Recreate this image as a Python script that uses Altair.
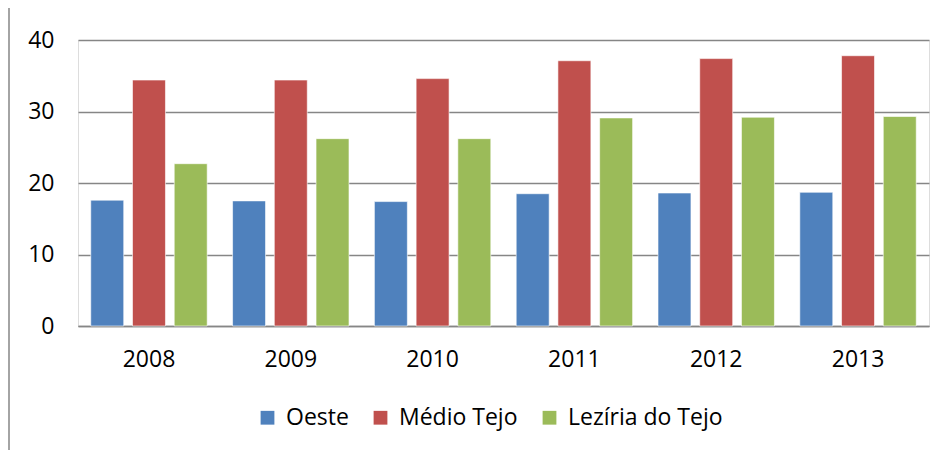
import altair as alt
import pandas as pd

years = ["2008", "2009", "2010", "2011", "2012", "2013"]
series = ["Oeste", "Médio Tejo", "Lezíria do Tejo"]
oeste = [17.6, 17.5, 17.4, 18.5, 18.6, 18.7]
medio_tejo = [34.4, 34.4, 34.6, 37.1, 37.4, 37.8]
leziria = [22.7, 26.2, 26.2, 29.1, 29.2, 29.3]
colors = ["#4F81BD", "#C0504D", "#9BBB59"]

rows = []
for name, vals in zip(series, [oeste, medio_tejo, leziria]):
    for y, v in zip(years, vals):
        rows.append({"year": y, "series": name, "value": v})
df = pd.DataFrame(rows)

FONT = "Open Sans"
FS = 23

bars = alt.Chart(df).mark_bar(stroke="white", strokeWidth=0.6).encode(
    x=alt.X("year:N", sort=years, title=None,
            scale=alt.Scale(paddingInner=0.179, paddingOuter=0.09),
            axis=alt.Axis(labelAngle=0, labelFont=FONT, labelFontSize=FS,
                          labelColor="#000000", labelPadding=22, ticks=False,
                          domainColor="#868686", domainWidth=1.5)),
    xOffset=alt.XOffset("series:N", sort=series,
                        scale=alt.Scale(paddingInner=0.21, paddingOuter=0)),
    y=alt.Y("value:Q", title=None,
            scale=alt.Scale(domain=[0, 40], nice=False),
            axis=alt.Axis(values=[0, 10, 20, 30, 40], labelFont=FONT,
                          labelFontSize=FS, labelColor="#000000",
                          labelPadding=24, ticks=False, domain=False,
                          gridColor="#868686", gridWidth=1.5)),
    color=alt.Color("series:N", sort=series,
                    scale=alt.Scale(domain=series, range=colors),
                    legend=alt.Legend(title=None, orient="none",
                                      direction="horizontal",
                                      legendX=178, legendY=366,
                                      symbolType="square", symbolSize=190,
                                      symbolStrokeWidth=0,
                                      labelFont=FONT, labelFontSize=FS,
                                      labelColor="#000000", columnPadding=20,
                                      symbolOffset=0, labelOffset=7)),
)

border = alt.Chart(pd.DataFrame({"a": [0]})).mark_rule(
    color="#868686", strokeWidth=1.5).encode(
    x=alt.value(-69), y=alt.value(-40), y2=alt.value(470))

chart = alt.layer(bars, border).properties(
    width=851, height=286,
    autosize=alt.AutoSizeParams(type="none"),
    padding={"left": 70, "top": 32, "right": 8, "bottom": 140},
).configure_view(stroke=None).configure(background="white")

chart.save("out.html", embed_options={"renderer": "svg", "actions": False})
